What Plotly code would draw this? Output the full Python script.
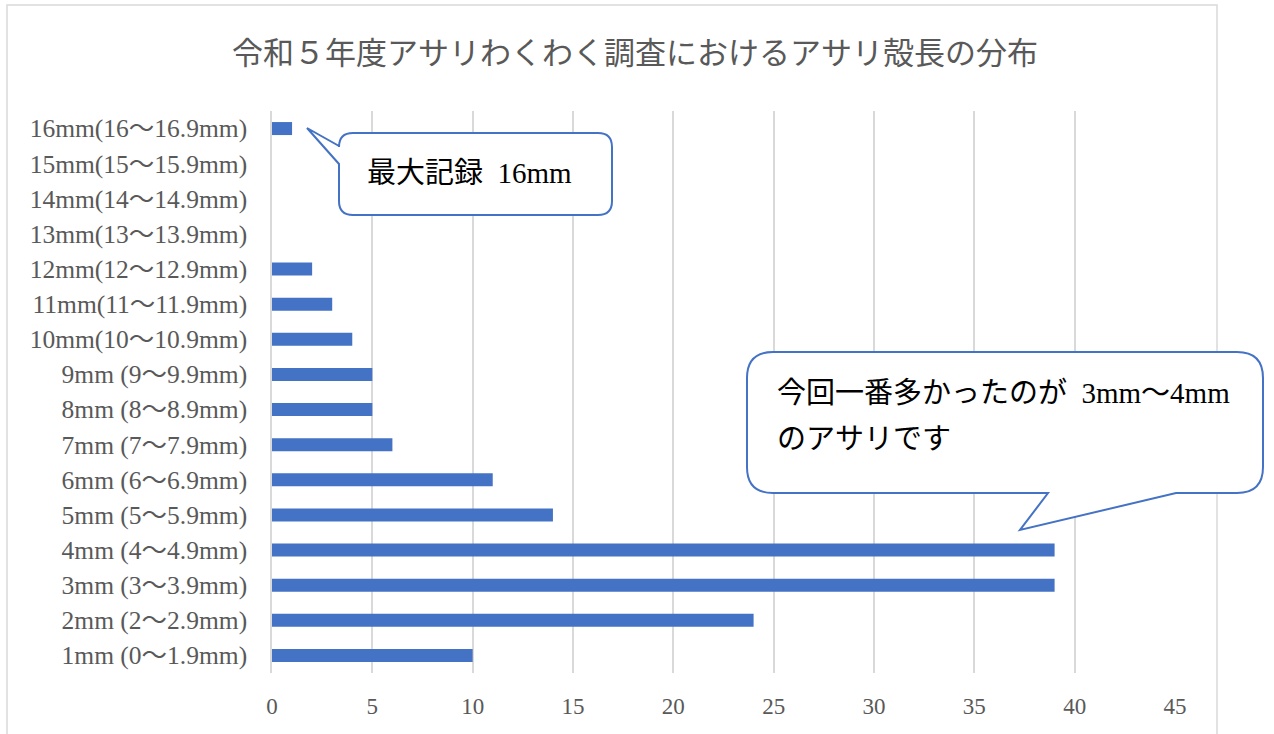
import plotly.graph_objects as go

categories = [
    "1mm (0〜1.9mm)", "2mm (2〜2.9mm)", "3mm (3〜3.9mm)", "4mm (4〜4.9mm)",
    "5mm (5〜5.9mm)", "6mm (6〜6.9mm)", "7mm (7〜7.9mm)", "8mm (8〜8.9mm)",
    "9mm (9〜9.9mm)", "10mm(10〜10.9mm)", "11mm(11〜11.9mm)", "12mm(12〜12.9mm)",
    "13mm(13〜13.9mm)", "14mm(14〜14.9mm)", "15mm(15〜15.9mm)", "16mm(16〜16.9mm)",
]
counts = [10, 24, 39, 39, 14, 11, 6, 5, 5, 4, 3, 2, 0, 0, 0, 1]
x_ticks = [0, 5, 10, 15, 20, 25, 30, 35, 40, 45]

title_text = "令和５年度アサリわくわく調査におけるアサリ殻長の分布"
note1 = "最大記録  16mm"
note2_lines = ["今回一番多かったのが  3mm〜4mm", "のアサリです"]

FONT = "Liberation Serif, 'Noto Sans CJK JP', serif"
W, H = 1274, 734
L, R, T, B = 272, 1175, 111, 673  # plot area in pixels


def px(x):
    return (x - L) / (R - L)


def py(y):
    return (B - y) / (B - T)


def callout_path(x0, y0, x1, y1, r, ptr, side):
    """Rounded rectangle with pointer; returns SVG path in paper coords."""
    cmds = []
    def M(x, y): cmds.append(("M", [(x, y)]))
    def Lp(x, y): cmds.append(("L", [(x, y)]))
    def Q(cx, cy, x, y): cmds.append(("Q", [(cx, cy), (x, y)]))
    M(x0 + r, y0)
    Lp(x1 - r, y0)
    Q(x1, y0, x1, y0 + r)
    Lp(x1, y1 - r)
    Q(x1, y1, x1 - r, y1)
    if side == "bottom":
        (bx1, by1), (tx, ty), (bx0, by0) = ptr
        Lp(bx1, y1)
        Lp(tx, ty)
        Lp(bx0, y1)
    Lp(x0 + r, y1)
    Q(x0, y1, x0, y1 - r)
    if side == "left":
        (bx0, by0), (tx, ty), (bx1, by1) = ptr
        Lp(x0, by1)
        Lp(tx, ty)
        Lp(x0, by0)
    Lp(x0, y0 + r)
    Q(x0, y0, x0 + r, y0)
    s = ""
    for c, ps in cmds:
        s += c + " " + " ".join(f"{px(a):.5f},{py(b):.5f}" for a, b in ps) + " "
    return s + "Z"


fig = go.Figure(
    go.Bar(
        x=counts,
        y=categories,
        orientation="h",
        marker=dict(color="#4472C4", line=dict(width=0)),
        width=0.37,
    )
)

shapes = [
    dict(type="rect", xref="paper", yref="paper",
         x0=px(7), x1=px(1217), y0=py(745), y1=py(5),
         line=dict(color="#d9d9d9", width=1.5), fillcolor="rgba(0,0,0,0)", layer="below"),
    dict(type="path", xref="paper", yref="paper",
         path=callout_path(339, 133, 612, 215, 14, [(339, 146), (307, 128), (339, 164)], "left"),
         line=dict(color="#4472C4", width=2), fillcolor="white"),
    dict(type="path", xref="paper", yref="paper",
         path=callout_path(747, 352, 1263, 493, 26, [(1176, 493), (1020, 530), (1048, 493)], "bottom"),
         line=dict(color="#4472C4", width=2), fillcolor="white"),
]

annotations = [
    dict(xref="paper", yref="paper", x=px(365), y=py(173), text=note1, showarrow=False,
         xanchor="left", yanchor="middle", font=dict(family=FONT, size=29, color="#000000")),
    dict(xref="paper", yref="paper", x=px(775), y=py(393), text=note2_lines[0], showarrow=False,
         xanchor="left", yanchor="middle", font=dict(family=FONT, size=29, color="#000000")),
    dict(xref="paper", yref="paper", x=px(775), y=py(439), text=note2_lines[1], showarrow=False,
         xanchor="left", yanchor="middle", font=dict(family=FONT, size=29, color="#000000")),
]

fig.update_layout(
    width=W, height=H,
    margin=dict(l=L, r=W - R, t=T, b=H - B, pad=0),
    paper_bgcolor="white", plot_bgcolor="white",
    showlegend=False,
    title=dict(text=title_text, x=px(635), xanchor="center", y=1 - 53 / H, yanchor="middle",
               xref="paper", font=dict(family=FONT, size=31, color="#595959")),
    font=dict(family=FONT, color="#595959"),
    shapes=shapes,
    annotations=annotations,
    bargap=0.63,
)
fig.update_xaxes(
    range=[0, 45], tickvals=x_ticks, ticktext=[str(v) for v in x_ticks],
    showgrid=True, gridcolor="#d9d9d9", gridwidth=1.5, zeroline=False, showline=False,
    ticks="outside", ticklen=12, tickcolor="rgba(0,0,0,0)",
    tickfont=dict(family=FONT, size=23, color="#595959"),
)
fig.update_yaxes(
    type="category", categoryorder="array", categoryarray=categories,
    showgrid=False, zeroline=False, showline=True, linecolor="#d9d9d9", linewidth=1.5,
    ticks="outside", ticklen=18, tickcolor="rgba(0,0,0,0)",
    tickfont=dict(family=FONT, size=25.5, color="#595959"),
    range=[-0.5, 15.5],
)

fig.write_html("out.html")
